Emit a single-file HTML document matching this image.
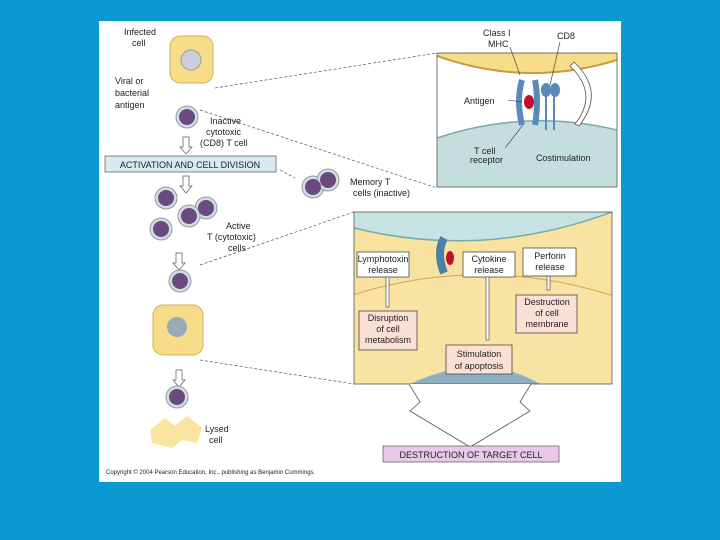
<!DOCTYPE html>
<html><head><style>
html,body{margin:0;padding:0;width:720px;height:540px;overflow:hidden;background:#0a9ad1}
svg{position:absolute;left:0;top:0}
text{font-family:"Liberation Sans",sans-serif;fill:#222}
</style></head><body>
<svg width="720" height="540" viewBox="0 0 720 540">
<rect x="99" y="21" width="522" height="461" fill="#fff"/>
<!-- top right panel -->
<clipPath id="c1"><rect x="437" y="53" width="180" height="134"/></clipPath>
<g clip-path="url(#c1)">
<rect x="437" y="53" width="180" height="134" fill="#fff"/>
<path d="M437 53 H617 V60 Q527 88 437 56 Z" fill="#f7dc8a"/>
<path d="M437 56 Q527 88 617 60" fill="none" stroke="#c99a40" stroke-width="2"/>
<path d="M437 138 Q527 108 617 130 V187 H437 Z" fill="#c4dedd"/>
<path d="M437 138 Q527 108 617 130" fill="none" stroke="#7aa" stroke-width="1.5"/>
</g>
<rect x="437" y="53" width="180" height="134" fill="none" stroke="#555" stroke-width="0.8"/>
<path d="M522 80 q-6 20 0 45 M535 80 q4 20 0 45" stroke="#5a8ab8" stroke-width="6" fill="none"/>
<ellipse cx="529" cy="102" rx="5" ry="7" fill="#c0102a"/>
<g fill="#5a8ab8"><rect x="545" y="92" width="2" height="38"/><rect x="553" y="92" width="2" height="38"/>
<ellipse cx="546" cy="90" rx="5" ry="7"/><ellipse cx="555" cy="90" rx="5" ry="7"/></g>
<path d="M574 62 q32 30 5 64 l-4 -2 q24 -30 -5 -58z" fill="#fff" stroke="#555" stroke-width="0.8"/>
<g stroke="#333" stroke-width="0.6"><line x1="510" y1="47" x2="520" y2="75"/><line x1="560" y1="42" x2="550" y2="85"/><line x1="508" y1="100" x2="522" y2="102"/><line x1="505" y1="148" x2="523" y2="125"/></g>
<text x="483" y="36" font-size="9">Class I</text><text x="488" y="47" font-size="9">MHC</text>
<text x="557" y="39" font-size="9">CD8</text>
<text x="464" y="104" font-size="9">Antigen</text>
<text x="474" y="154" font-size="9">T cell</text><text x="470" y="163" font-size="9">receptor</text>
<text x="536" y="161" font-size="9">Costimulation</text>
<!-- bottom right panel -->
<clipPath id="c2"><rect x="354" y="212" width="258" height="172"/></clipPath>
<g clip-path="url(#c2)">
<rect x="354" y="212" width="258" height="172" fill="#f7e2a0"/>
<path d="M354 212 H612 V212 Q483 260 354 228 Z" fill="#c7e2e2"/>
<path d="M354 228 Q483 260 612 212" fill="none" stroke="#7aa" stroke-width="1.5"/>
<path d="M354 295 Q483 255 612 296" fill="none" stroke="#d9a050" stroke-width="2"/>
<path d="M354 295 Q483 255 612 296 V384 H354 Z" fill="#f8e2a4"/>
<path d="M410 384 Q483 350 540 384 Z" fill="#8fb0c0"/>
</g>
<rect x="354" y="212" width="258" height="172" fill="none" stroke="#555" stroke-width="0.8"/>
<path d="M444 238 q-8 15 0 35" stroke="#4a7fa8" stroke-width="8" fill="none"/>
<ellipse cx="450" cy="258" rx="4" ry="7" fill="#c0102a"/>
<g font-size="9" text-anchor="middle">
<rect x="357" y="252" width="52" height="25" fill="#fff" stroke="#333" stroke-width="0.7"/>
<text x="383" y="262">Lymphotoxin</text><text x="383" y="273">release</text>
<rect x="463" y="252" width="52" height="25" fill="#fff" stroke="#333" stroke-width="0.7"/>
<text x="489" y="262">Cytokine</text><text x="489" y="273">release</text>
<rect x="523" y="248" width="53" height="28" fill="#fff" stroke="#333" stroke-width="0.7"/>
<text x="550" y="259">Perforin</text><text x="550" y="270">release</text>
<rect x="359" y="311" width="58" height="39" fill="#fbe0d6" stroke="#333" stroke-width="0.7"/>
<text x="388" y="321">Disruption</text><text x="388" y="332">of cell</text><text x="388" y="343">metabolism</text>
<rect x="516" y="295" width="61" height="38" fill="#fbe0d6" stroke="#333" stroke-width="0.7"/>
<text x="547" y="305">Destruction</text><text x="547" y="316">of cell</text><text x="547" y="327">membrane</text>
<rect x="446" y="345" width="66" height="29" fill="#fbe0d6" stroke="#333" stroke-width="0.7"/>
<text x="479" y="357">Stimulation</text><text x="479" y="369">of apoptosis</text>
</g>
<g stroke="#555" fill="#fff" stroke-width="0.7">
<rect x="386" y="277" width="3" height="30"/><rect x="486" y="277" width="3" height="63"/><rect x="547" y="276" width="3" height="14"/>
</g>
<path d="M409 384 L420 402 L410 411 L470 447 L530 411 L520 402 L531 384" fill="#fff" stroke="#555" stroke-width="0.8"/>
<rect x="383" y="446" width="176" height="16" fill="#e9c8ea" stroke="#555" stroke-width="0.7"/>
<text x="471" y="458" font-size="9" text-anchor="middle">DESTRUCTION OF TARGET CELL</text>
<!-- dashed lines -->
<g stroke="#555" stroke-dasharray="3,2" stroke-width="0.7" fill="none">
<line x1="215" y1="88" x2="437" y2="53"/><line x1="200" y1="110" x2="437" y2="188"/>
<line x1="200" y1="265" x2="354" y2="212"/><line x1="200" y1="360" x2="354" y2="384"/>
<line x1="280" y1="170" x2="295" y2="178"/>
</g>
<!-- infected cell -->
<rect x="170" y="36" width="43" height="47" rx="10" fill="#f7dc8a" stroke="#d4b060"/>
<circle cx="191" cy="60" r="10" fill="#ccd" stroke="#999"/>
<circle cx="187" cy="117" r="11" fill="#cfe0e4" stroke="#999"/><circle cx="187" cy="117" r="8" fill="#6a4a80"/>
<g font-size="9">
<text x="124" y="35">Infected</text><text x="132" y="46">cell</text>
<text x="115" y="84">Viral or</text><text x="115" y="96">bacterial</text><text x="115" y="108">antigen</text>
<text x="210" y="124">Inactive</text><text x="206" y="135">cytotoxic</text><text x="200" y="146">(CD8) T cell</text>
<text x="350" y="185">Memory T</text><text x="353" y="196">cells (inactive)</text>
<text x="226" y="229">Active</text><text x="207" y="240">T (cytotoxic)</text><text x="228" y="251">cells</text>
<text x="205" y="432">Lysed</text><text x="209" y="443">cell</text>
</g>
<rect x="105" y="156" width="171" height="16" fill="#d6e8f0" stroke="#555" stroke-width="0.7"/>
<text x="190" y="168" font-size="9" text-anchor="middle">ACTIVATION AND CELL DIVISION</text>
<g fill="#fff" stroke="#555" stroke-width="0.7">
<path d="M183 137 h6 v10 h3 l-6 7 l-6 -7 h3z"/><path d="M183 176 h6 v10 h3 l-6 7 l-6 -7 h3z"/>
<path d="M176 253 h6 v10 h3 l-6 7 l-6 -7 h3z"/><path d="M176 370 h6 v10 h3 l-6 7 l-6 -7 h3z"/>
</g>
<g fill="#cfe0e4" stroke="#999"><circle cx="313" cy="187" r="11"/><circle cx="328" cy="180" r="11"/>
<circle cx="166" cy="198" r="11"/><circle cx="206" cy="208" r="11"/><circle cx="189" cy="216" r="11"/><circle cx="161" cy="229" r="11"/>
<circle cx="180" cy="281" r="11"/><circle cx="177" cy="397" r="11"/></g>
<g fill="#6a4a80"><circle cx="313" cy="187" r="8"/><circle cx="328" cy="180" r="8"/>
<circle cx="166" cy="198" r="8"/><circle cx="206" cy="208" r="8"/><circle cx="189" cy="216" r="8"/><circle cx="161" cy="229" r="8"/>
<circle cx="180" cy="281" r="8"/><circle cx="177" cy="397" r="8"/></g>
<rect x="153" y="305" width="50" height="50" rx="10" fill="#f7dc8a" stroke="#d4b060"/>
<circle cx="177" cy="327" r="10" fill="#9ab" />
<path d="M150 430 l15 -12 l10 8 l12 -10 l15 12 l-5 15 l-15 -3 l-10 8 l-20 -5z" fill="#f9e4a0"/>
<text x="106" y="474" font-size="6">Copyright © 2004 Pearson Education, Inc., publishing as Benjamin Cummings.</text>
</svg>
</body></html>
